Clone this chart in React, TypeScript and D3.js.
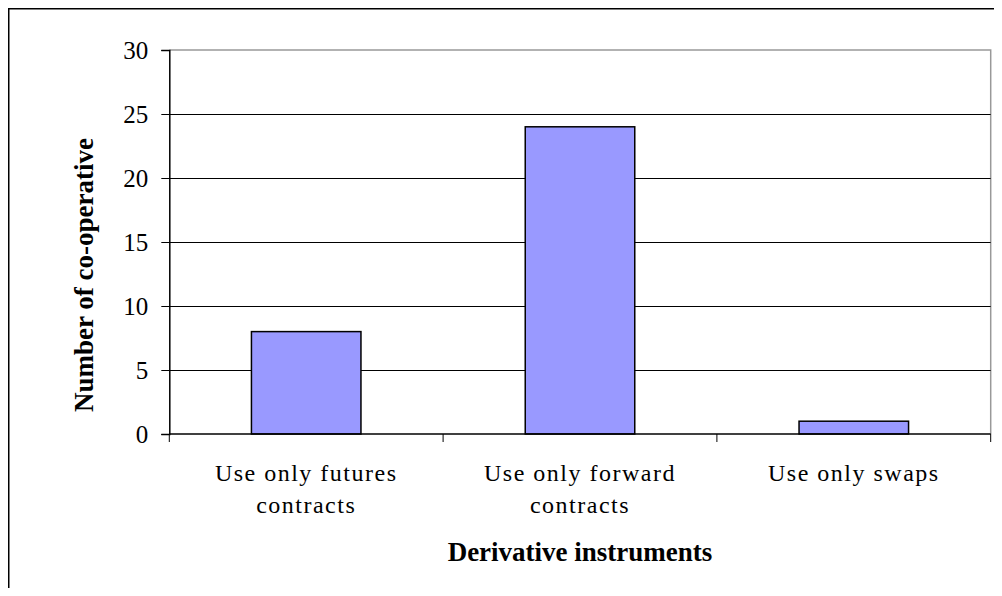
import * as d3 from "d3";
import { useEffect, useRef } from "react";

// chart data
const categories = ["futures", "forward", "swaps"];
const categoryLines = [
    ["Use only futures", "contracts"],
    ["Use only forward", "contracts"],
    ["Use only swaps"],
];
const counts = [8, 24, 1];
const yTicks = [0, 5, 10, 15, 20, 25, 30];

const xTitle = "Derivative instruments";
const yTitle = "Number of co-operative";

export default function App() {
    const svgRef = useRef<SVGSVGElement | null>(null);

    useEffect(() => {
        if (!svgRef.current) return;
        const svg = d3.select(svgRef.current);
        svg.selectAll("*").remove();

        const width = 994;
        const height = 588;
        const left = 161.3;
        const right = 982.7;
        const top = 42;
        const bottom = 426;
        const font = "'Liberation Serif', 'Times New Roman', serif";

        svg.attr("width", width).attr("height", height);

        // outer chart border (only top/left fall in view)
        svg.append("rect")
            .attr("x", 0.75)
            .attr("y", 0.75)
            .attr("width", 2000)
            .attr("height", 2000)
            .attr("fill", "white")
            .attr("stroke", "black")
            .attr("stroke-width", 1.5);

        const x = d3.scaleBand<string>()
            .domain(categories)
            .range([left, right])
            .paddingInner(0.6)
            .paddingOuter(0.3);

        const y = d3.scaleLinear()
            .domain([0, 30])
            .range([bottom, top]);

        // plot area border (gray top/right)
        svg.append("path")
            .attr("d", `M${left},${top}H${right}V${bottom}`)
            .attr("fill", "none")
            .attr("stroke", "#999")
            .attr("stroke-width", 1.5);

        // gridlines
        svg.append("g")
            .selectAll("line")
            .data(yTicks.filter((t) => t > 0 && t < 30))
            .enter()
            .append("line")
            .attr("x1", left)
            .attr("x2", right)
            .attr("y1", (d) => Math.round(y(d)) + 0.5)
            .attr("y2", (d) => Math.round(y(d)) + 0.5)
            .attr("stroke", "black")
            .attr("stroke-width", 1);

        // bars
        svg.append("g")
            .selectAll("rect")
            .data(counts)
            .enter()
            .append("rect")
            .attr("x", (d, i) => x(categories[i])!)
            .attr("y", (d) => y(d))
            .attr("width", x.bandwidth())
            .attr("height", (d) => bottom - y(d))
            .attr("fill", "#9999ff")
            .attr("stroke", "black")
            .attr("stroke-width", 1.5);

        // y axis
        const yAxis = svg.append("g")
            .attr("transform", `translate(${left},0)`)
            .call(d3.axisLeft(y).tickValues(yTicks).tickSize(8).tickPadding(13));
        yAxis.select(".domain").attr("stroke", "black").attr("stroke-width", 1.5);
        yAxis.selectAll(".tick line").attr("stroke", "black");
        yAxis.selectAll(".tick text")
            .attr("font-family", font)
            .attr("font-size", 25)
            .attr("fill", "black");

        // x axis: ticks sit on category boundaries
        const boundaries = [left, ...categories.slice(1).map((c) => x(c)! - x.step() * x.paddingInner() / 2), right];
        const xAxisG = svg.append("g");
        xAxisG.append("line")
            .attr("x1", left)
            .attr("x2", right)
            .attr("y1", bottom)
            .attr("y2", bottom)
            .attr("stroke", "black")
            .attr("stroke-width", 1.5);
        xAxisG.selectAll("line.tick")
            .data(boundaries)
            .enter()
            .append("line")
            .attr("class", "tick")
            .attr("x1", (d) => d)
            .attr("x2", (d) => d)
            .attr("y1", bottom)
            .attr("y2", bottom + 8)
            .attr("stroke", "black")
            .attr("stroke-width", 1);

        // category labels
        categories.forEach((c, i) => {
            const cx = x(c)! + x.bandwidth() / 2;
            categoryLines[i].forEach((line, j) => {
                svg.append("text")
                    .attr("x", cx)
                    .attr("y", 473 + j * 32)
                    .attr("text-anchor", "middle")
                    .attr("font-family", font)
                    .attr("font-size", 24)
                    .attr("letter-spacing", 1.5)
                    .text(line);
            });
        });

        // axis titles
        svg.append("text")
            .attr("x", (left + right) / 2)
            .attr("y", 553)
            .attr("text-anchor", "middle")
            .attr("font-family", font)
            .attr("font-size", 27)
            .attr("font-weight", "bold")
            .text(xTitle);

        svg.append("text")
            .attr("transform", `translate(85,267) rotate(-90)`)
            .attr("text-anchor", "middle")
            .attr("font-family", font)
            .attr("font-size", 27)
            .attr("font-weight", "bold")
            .text(yTitle);
    }, []);

    return <svg ref={svgRef} style={{ display: "block", marginBottom: -8 }} />;
}
